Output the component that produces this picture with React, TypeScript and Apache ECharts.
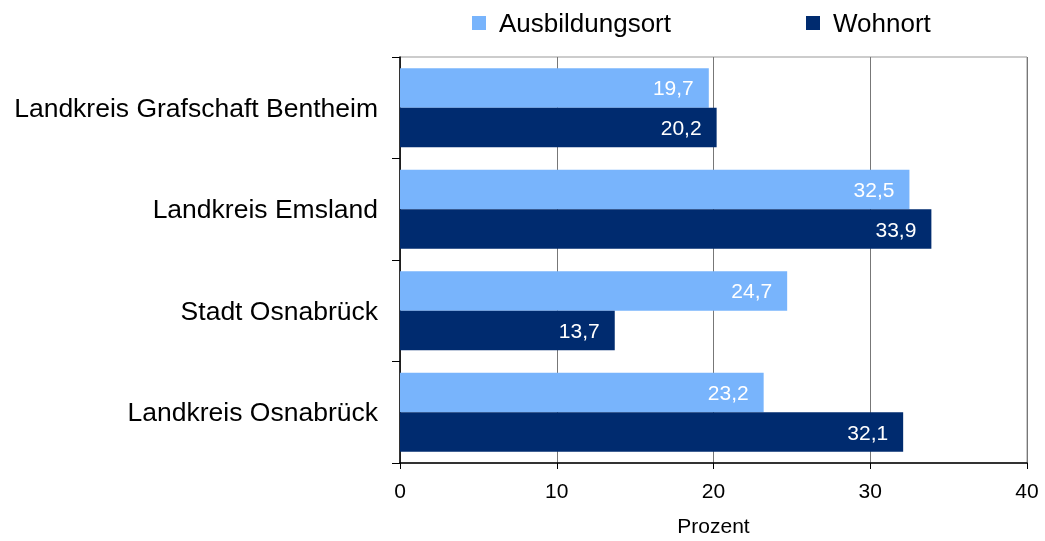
import React, { useEffect, useRef } from "react";
import * as echarts from "echarts";

const categories = [
  "Landkreis Grafschaft Bentheim",
  "Landkreis Emsland",
  "Stadt Osnabrück",
  "Landkreis Osnabrück",
];
const ausbildungsort = [19.7, 32.5, 24.7, 23.2];
const wohnort = [20.2, 33.9, 13.7, 32.1];
const seriesNames = ["Ausbildungsort", "Wohnort"];
const xTicks = { min: 0, max: 40, interval: 10 };

const fmt = (v: number) => v.toFixed(1).replace(".", ",");

export default function App() {
  const ref = useRef<HTMLDivElement>(null);
  useEffect(() => {
    if (!ref.current) return;
    const chart = echarts.init(ref.current, undefined, {
      renderer: "svg",
      width: 1045,
      height: 541,
    });
    const font = "Liberation Sans, Arial, sans-serif";
    const barLabel = {
      show: true,
      position: "insideRight",
      distance: 15,
      color: "#fff",
      fontSize: 21,
      fontFamily: font,
      formatter: (p: any) => fmt(p.value),
    };
    chart.setOption({
      animation: false,
      textStyle: { fontFamily: font },
      legend: {
        left: 467,
        top: 5,
        itemWidth: 14,
        itemHeight: 14,
        itemGap: 135,
        icon: "rect",
        textStyle: { fontSize: 26, color: "#000", fontFamily: font, padding: [0, 0, 0, 8] },
        data: seriesNames,
      },
      grid: {
        left: 400,
        right: 18,
        top: 57,
        bottom: 74,
        show: true,
        borderColor: "#999",
        borderWidth: 1,
      },
      xAxis: {
        type: "value",
        min: xTicks.min,
        max: xTicks.max,
        interval: xTicks.interval,
        name: "Prozent",
        nameLocation: "middle",
        nameGap: 52,
        nameTextStyle: { fontSize: 21, color: "#000", fontFamily: font },
        axisLine: { show: true, lineStyle: { color: "#000", width: 1.5 } },
        axisTick: { show: true, length: 6, lineStyle: { color: "#000" } },
        axisLabel: { fontSize: 21, color: "#000", margin: 17, fontFamily: font },
        splitLine: { show: true, lineStyle: { color: "#777", width: 1 } },
      },
      yAxis: {
        type: "category",
        inverse: true,
        data: categories,
        axisLine: { show: true, lineStyle: { color: "#000", width: 1.5 } },
        axisTick: { show: true, length: 8, lineStyle: { color: "#000" } },
        axisLabel: { fontSize: 26.5, color: "#000", margin: 22, fontFamily: font },
      },
      series: [
        {
          name: seriesNames[0],
          type: "bar",
          data: ausbildungsort,
          barGap: "0%",
          barCategoryGap: "22%",
          itemStyle: { color: "#78b4fc" },
          label: barLabel,
        },
        {
          name: seriesNames[1],
          type: "bar",
          data: wohnort,
          barGap: "0%",
          barCategoryGap: "22%",
          itemStyle: { color: "#002b6f" },
          label: barLabel,
        },
      ],
    });
    return () => chart.dispose();
  }, []);
  return (
    <div
      ref={ref}
      style={{ position: "fixed", left: 0, top: 0, width: 1045, height: 541 }}
    />
  );
}
